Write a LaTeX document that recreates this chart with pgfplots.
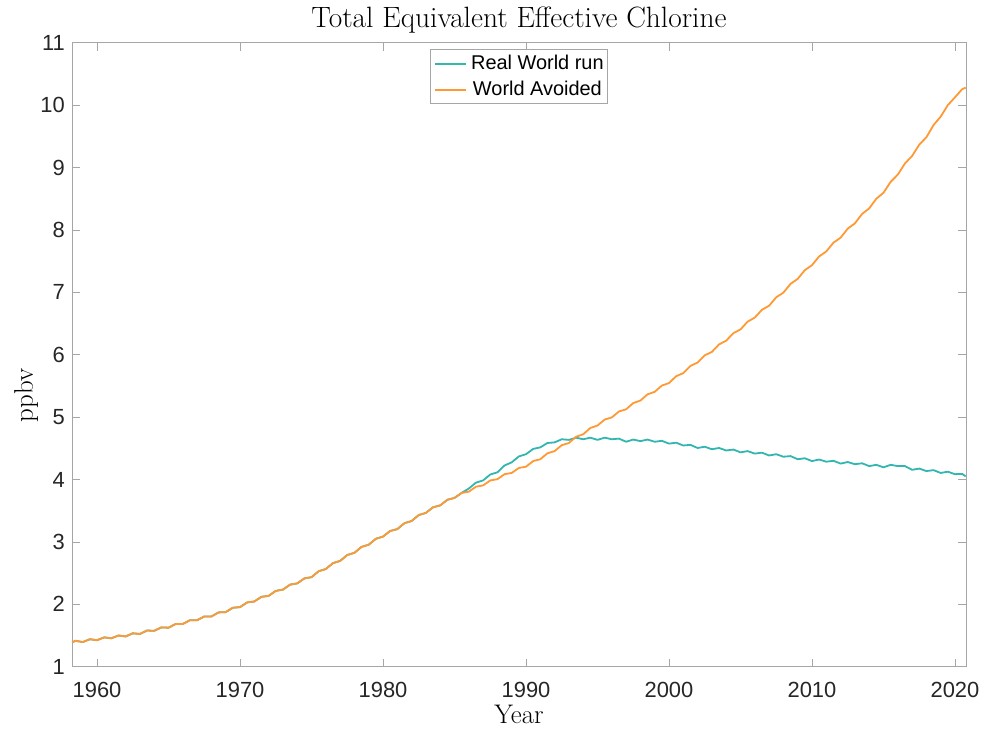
\documentclass[border=0pt]{standalone}
\usepackage{fontspec}
\newfontfamily\arial{Liberation Sans}
\usepackage{pgfplots}
\pgfplotsset{compat=1.18}
\usepackage{pgfplotstable}
\definecolor{teal1}{RGB}{51,181,176}
\definecolor{orange1}{RGB}{255,153,51}
\definecolor{axgray}{RGB}{166,166,166}
\definecolor{txt}{RGB}{38,38,38}

\pgfplotstableread{
t real avoided
1958.25 1.39 1.39
1958.5 1.415 1.415
1959.0 1.395 1.395
1959.5 1.44 1.44
1960.0 1.425 1.425
1960.5 1.47 1.47
1961.0 1.455 1.455
1961.5 1.50 1.50
1962.0 1.485 1.485
1962.5 1.535 1.535
1963.0 1.525 1.525
1963.5 1.58 1.58
1964.0 1.575 1.575
1964.5 1.63 1.63
1965.0 1.625 1.625
1965.5 1.685 1.685
1966.0 1.685 1.685
1966.5 1.745 1.745
1967.0 1.745 1.745
1967.5 1.805 1.805
1968.0 1.805 1.805
1968.5 1.87 1.87
1969.0 1.875 1.875
1969.5 1.945 1.945
1970.0 1.955 1.955
1970.5 2.03 2.03
1971.0 2.045 2.045
1971.5 2.12 2.12
1972.0 2.135 2.135
1972.5 2.215 2.215
1973.0 2.235 2.235
1973.5 2.315 2.315
1974.0 2.335 2.335
1974.5 2.415 2.415
1975.0 2.435 2.435
1975.5 2.53 2.53
1976.0 2.565 2.565
1976.5 2.66 2.66
1977.0 2.695 2.695
1977.5 2.79 2.79
1978.0 2.825 2.825
1978.5 2.92 2.92
1979.0 2.955 2.955
1979.5 3.05 3.05
1980.0 3.085 3.085
1980.5 3.175 3.175
1981.0 3.205 3.205
1981.5 3.30 3.30
1982.0 3.335 3.335
1982.5 3.43 3.43
1983.0 3.465 3.465
1983.5 3.555 3.555
1984.0 3.585 3.585
1984.5 3.675 3.675
1985.0 3.705 3.705
1985.5 3.785 3.785
1986.0 3.855 3.805
1986.5 3.95 3.885
1987.0 3.985 3.905
1987.5 4.08 3.985
1988.0 4.115 4.005
1988.5 4.225 4.085
1989.0 4.275 4.105
1989.5 4.37 4.185
1990.0 4.405 4.205
1990.5 4.49 4.295
1991.0 4.515 4.325
1991.5 4.585 4.42
1992.0 4.595 4.455
1992.5 4.645 4.55
1993.0 4.635 4.585
1993.5 4.67 4.685
1994.0 4.645 4.725
1994.5 4.67 4.825
1995.0 4.635 4.865
1995.5 4.67 4.96
1996.0 4.645 4.995
1996.5 4.655 5.09
1997.0 4.605 5.125
1997.5 4.64 5.225
1998.0 4.615 5.265
1998.5 4.64 5.365
1999.0 4.605 5.405
1999.5 4.62 5.505
2000.0 4.575 5.545
2000.5 4.59 5.655
2001.0 4.545 5.705
2001.5 4.555 5.82
2002.0 4.505 5.875
2002.5 4.525 5.99
2003.0 4.485 6.045
2003.5 4.505 6.165
2004.0 4.465 6.225
2004.5 4.48 6.345
2005.0 4.435 6.405
2005.5 4.455 6.53
2006.0 4.415 6.595
2006.5 4.43 6.72
2007.0 4.385 6.785
2007.5 4.405 6.92
2008.0 4.365 6.995
2008.5 4.375 7.135
2009.0 4.325 7.215
2009.5 4.34 7.355
2010.0 4.295 7.435
2010.5 4.32 7.575
2011.0 4.285 7.655
2011.5 4.30 7.795
2012.0 4.255 7.875
2012.5 4.28 8.02
2013.0 4.245 8.105
2013.5 4.26 8.255
2014.0 4.215 8.345
2014.5 4.235 8.50
2015.0 4.195 8.595
2015.5 4.235 8.77
2016.0 4.215 8.885
2016.5 4.215 9.065
2017.0 4.155 9.185
2017.5 4.175 9.365
2018.0 4.135 9.485
2018.5 4.15 9.68
2019.0 4.105 9.815
2019.5 4.125 10.00
2020.0 4.085 10.125
2020.5 4.09 10.255
2020.75 4.05 10.28
}\chlorine

\begin{document}
\begin{tikzpicture}
\useasboundingbox (-72bp,-64.3bp) rectangle (914bp,666.7bp);
\begin{axis}[
  scale only axis, width=894bp, height=624bp,
  xmin=1958.25, xmax=2020.77, ymin=1, ymax=11,
  xtick={1960,1970,...,2020}, ytick={1,2,...,11},
  tick align=inside, major tick length=8bp,
  axis line style={axgray, line width=0.6bp},
  every tick/.style={axgray, line width=0.6bp},
  tick label style={font=\arial\fontsize{22}{22}\selectfont, text=txt, inner sep=0pt, /pgf/number format/assume math mode=true},
  xticklabel style={/pgf/number format/1000 sep={}, anchor=north, yshift=-15bp},
  yticklabel style={anchor=east, xshift=-7bp},
  title={Total Equivalent Effective Chlorine},
  title style={at={(0.5,1)}, anchor=base, yshift=9bp, font=\fontsize{29.5}{29.5}\selectfont, inner sep=0pt},
  xlabel={Year},
  xlabel style={at={(0.5,0)}, anchor=base, yshift=-56.5bp, font=\fontsize{27}{27}\selectfont, inner sep=0pt},
  ylabel={ppbv},
  ylabel style={at={([xshift=-39bp]axis description cs:0,0.435)}, anchor=base, font=\fontsize{27}{27}\selectfont, inner sep=0pt},
  legend style={at={(0.5,1)}, anchor=north, yshift=-6.3bp, draw=axgray, line width=0.6bp, fill=white,
    font=\arial\fontsize{20}{20}\selectfont, inner xsep=4bp, inner ysep=5bp, row sep=8bp,
    nodes={inner sep=0pt, anchor=base, text height=15bp, text depth=3bp},
    /tikz/every odd column/.append style={column sep=4bp}},
  legend cell align=left,
  legend image code/.code={\draw[#1, line width=1.8bp] (0bp,5.5bp) -- (31bp,5.5bp);},
]
\addplot[teal1, line width=1.8bp, line join=round] table[x=t, y=real] {\chlorine};
\addlegendentry{Real World run}
\addplot[orange1, line width=1.8bp, line join=round] table[x=t, y=avoided] {\chlorine};
\addlegendentry{World Avoided}
\end{axis}
\end{tikzpicture}
\end{document}
